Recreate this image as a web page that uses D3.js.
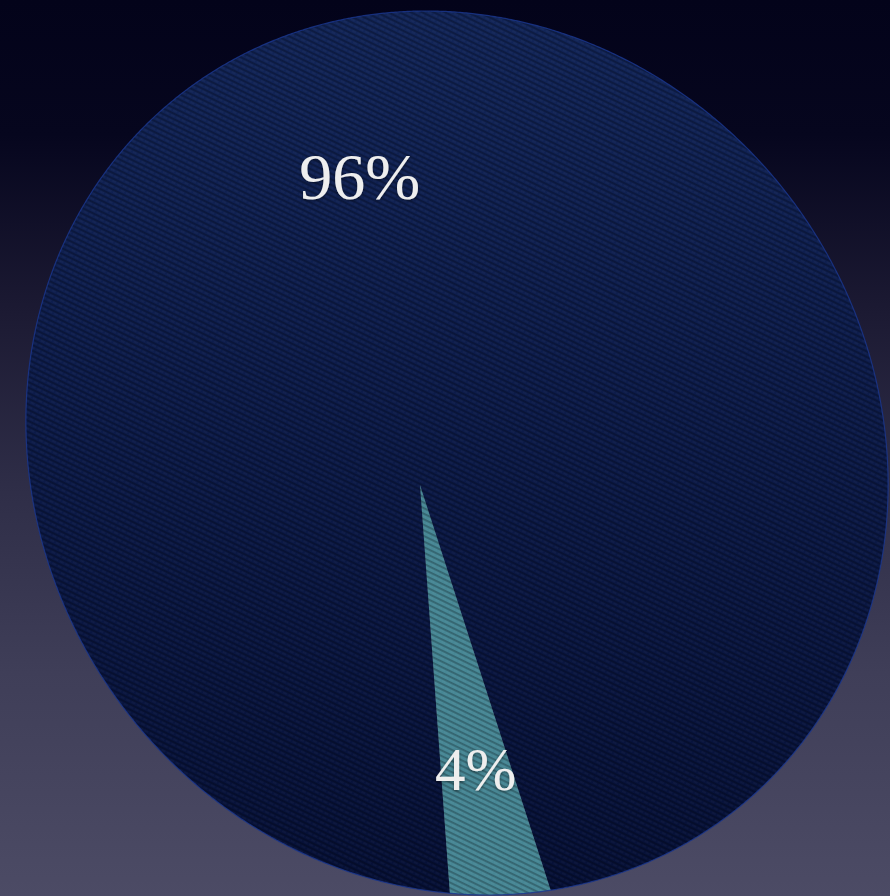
<!DOCTYPE html>
<html>
<head>
<meta charset="utf-8">
<script src="https://cdn.jsdelivr.net/npm/d3@7"></script>
<style>
  html, body { margin: 0; padding: 0; background: #03031a; }
  svg { display: block; }
</style>
</head>
<body>
<svg id="chart" width="890" height="896"></svg>
<script>
// ---- data ----
const categories = ["Rest", "Segment"];
const values = [96, 4];
const labels = ["96%", "4%"];
const sliceColors = ["url(#navyFill)", "#478795"];

// ---- layout ----
const width = 890, height = 896;
// The disc is shown tilted in perspective: its outline is an ellipse
// (centre, radii, shear) and its hub lands at (hubX, hubY).
const disc = { cx: 457, cy: 453, rx: 430, ry: 442, shear: 0.07, hubX: 420, hubY: 485 };
const labelRadius = 0.68;

// ellipse <-> unit circle (affine part)
function toEllipse(u, v) {
  return [disc.cx + disc.rx * u + disc.shear * disc.ry * v, disc.cy + disc.ry * v];
}
function fromEllipse(x, y) {
  const v = (y - disc.cy) / disc.ry;
  const u = (x - disc.cx - disc.shear * disc.ry * v) / disc.rx;
  return [u, v];
}
// projective map of the unit circle onto itself that moves its centre to q
const q = fromEllipse(disc.hubX, disc.hubY);
const qLen = Math.hypot(q[0], q[1]);
const n = [q[0] / qLen, q[1] / qLen];
const eta = Math.atanh(qLen);
const ch = Math.cosh(eta), sh = Math.sinh(eta);
function boost(u, v) {
  const r = u * n[0] + v * n[1];
  const s = [u - r * n[0], v - r * n[1]];
  const r2 = ch * r + sh;
  const w2 = sh * r + ch;
  return [(r2 * n[0] + s[0]) / w2, (r2 * n[1] + s[1]) / w2];
}
// d3 angle convention (clockwise from 12 o'clock) at radius t -> screen
function project(angle, t) {
  const u = t * Math.sin(angle), v = -t * Math.cos(angle);
  const b = boost(u, v);
  return toEllipse(b[0], b[1]);
}

const svg = d3.select("#chart");
const defs = svg.append("defs");

// background
const bg = defs.append("linearGradient").attr("id", "bgGrad")
  .attr("x1", 0).attr("y1", 0).attr("x2", 0).attr("y2", 1);
[[0, "#03031a"], [0.15, "#06061e"], [0.35, "#1c1a33"], [0.55, "#2f2e48"], [0.75, "#3f3e58"], [1, "#4c4b65"]]
  .forEach(([o, c]) => bg.append("stop").attr("offset", o).attr("stop-color", c));
svg.append("rect").attr("width", width).attr("height", height).attr("fill", "url(#bgGrad)");

// navy fill, lit from the top
const nf = defs.append("linearGradient").attr("id", "navyFill")
  .attr("gradientUnits", "userSpaceOnUse")
  .attr("x1", 0).attr("y1", 10).attr("x2", 0).attr("y2", 895);
[[0, "#122558"], [0.4, "#0d1c4b"], [0.75, "#09153f"], [1, "#061036"]]
  .forEach(([o, c]) => nf.append("stop").attr("offset", o).attr("stop-color", c));

// woven twill texture
const pat = defs.append("pattern").attr("id", "twill")
  .attr("patternUnits", "userSpaceOnUse")
  .attr("width", 6).attr("height", 5)
  .attr("patternTransform", "rotate(26)");
pat.append("rect").attr("x", 0).attr("y", 0).attr("width", 6).attr("height", 1.8)
  .attr("fill", "#000").attr("opacity", 0.26);
pat.append("rect").attr("x", 0).attr("y", 2.6).attr("width", 4).attr("height", 1)
  .attr("fill", "#fff").attr("opacity", 0.045);

const shadow = defs.append("filter").attr("id", "txtShadow")
  .attr("x", "-20%").attr("y", "-20%").attr("width", "140%").attr("height", "140%");
shadow.append("feDropShadow").attr("dx", 0).attr("dy", 1).attr("stdDeviation", 1.5)
  .attr("flood-color", "#000").attr("flood-opacity", 0.45);

// ---- pie ----
const pie = d3.pie().sort(null).startAngle(Math.PI).endAngle(3 * Math.PI);
const arcs = pie(values);
const line = d3.line().curve(d3.curveLinearClosed);
const step = Math.PI / 720;

function slicePoints(d) {
  const pts = [[disc.hubX, disc.hubY]];
  const nSteps = Math.max(2, Math.ceil((d.endAngle - d.startAngle) / step));
  for (let i = 0; i <= nSteps; i++) {
    const a = d.startAngle + (d.endAngle - d.startAngle) * i / nSteps;
    pts.push(project(a, 1));
  }
  return pts;
}
function outlinePoints() {
  const pts = [];
  for (let a = 0; a < 2 * Math.PI; a += step) pts.push(project(a, 1));
  return pts;
}

const g = svg.append("g");
g.selectAll("path.slice").data(arcs).join("path")
  .attr("class", "slice")
  .attr("d", d => line(slicePoints(d)))
  .attr("fill", (d, i) => sliceColors[i]);

// texture over the whole disc
g.append("path").attr("d", line(outlinePoints()))
  .attr("fill", "url(#twill)");

// rim
g.append("path").attr("d", line(outlinePoints()))
  .attr("fill", "none").attr("stroke", "#1a3790").attr("stroke-width", 1.2).attr("stroke-opacity", 0.8);

// ---- labels ----
const fontSizes = [66, 61];
svg.append("g").selectAll("text").data(arcs).join("text")
  .attr("x", d => project((d.startAngle + d.endAngle) / 2, labelRadius)[0])
  .attr("y", d => project((d.startAngle + d.endAngle) / 2, labelRadius)[1])
  .attr("dy", "0.34em")
  .attr("text-anchor", "middle")
  .attr("font-family", "'Liberation Serif', 'DejaVu Serif', serif")
  .attr("font-size", (d, i) => fontSizes[i])
  .attr("fill", "#eeeeee")
  .attr("filter", "url(#txtShadow)")
  .text((d, i) => labels[i]);
</script>
</body>
</html>
